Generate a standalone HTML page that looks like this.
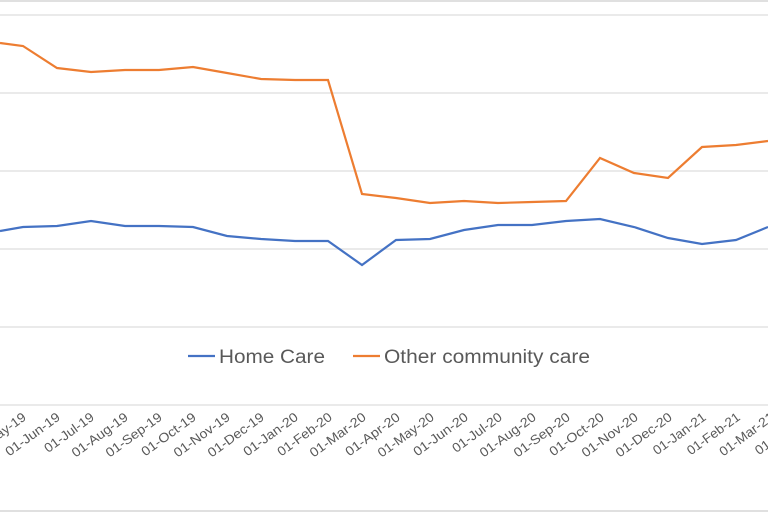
<!DOCTYPE html>
<html><head><style>body{margin:0;background:#fff}svg{display:block}</style></head><body>
<svg width="768" height="512" xmlns="http://www.w3.org/2000/svg" font-family="Liberation Sans, sans-serif">
<rect x="0" y="0" width="768" height="2" fill="#e0e0e0"/>
<rect x="0" y="510" width="768" height="2" fill="#e0e0e0"/>
<g stroke="#e3e3e3" stroke-width="1.5">
<line x1="0" y1="15" x2="768" y2="15"/><line x1="0" y1="93" x2="768" y2="93"/>
<line x1="0" y1="171" x2="768" y2="171"/><line x1="0" y1="249" x2="768" y2="249"/>
<line x1="0" y1="327" x2="768" y2="327"/><line x1="0" y1="405" x2="768" y2="405"/>
</g>
<polyline fill="none" stroke="#ED7D31" stroke-width="2.2" points="0,43 23,46 57,68 91,72 125,70 159,70 193,67 227,73 261,79 295,80 328,80 362,194 396,198 430,203 464,201 498,203 532,202 566,201 600,158 634,173 668,178 702,147 736,145 768,141"/>
<polyline fill="none" stroke="#4472C4" stroke-width="2.2" points="0,231 23,227 57,226 91,221 125,226 159,226 193,227 227,236 261,239 295,241 328,241 362,265 396,240 430,239 464,230 498,225 532,225 566,221 600,219 634,227 668,238 702,244 736,240 768,227"/>
<line x1="188" y1="356" x2="215" y2="356" stroke="#4472C4" stroke-width="2.2"/>
<text x="219" y="363" font-size="19" fill="#595959" textLength="106" lengthAdjust="spacingAndGlyphs">Home Care</text>
<line x1="353" y1="356" x2="380" y2="356" stroke="#ED7D31" stroke-width="2.2"/>
<text x="384" y="363" font-size="19" fill="#595959" textLength="206" lengthAdjust="spacingAndGlyphs">Other community care</text>
<g font-size="13" fill="#595959" text-anchor="end">
<text transform="translate(27,419) rotate(-36)" textLength="66" lengthAdjust="spacingAndGlyphs">01-May-19</text>
<text transform="translate(61,419) rotate(-36)" textLength="64" lengthAdjust="spacingAndGlyphs">01-Jun-19</text>
<text transform="translate(95,419) rotate(-36)" textLength="58" lengthAdjust="spacingAndGlyphs">01-Jul-19</text>
<text transform="translate(129,419) rotate(-36)" textLength="66" lengthAdjust="spacingAndGlyphs">01-Aug-19</text>
<text transform="translate(163,419) rotate(-36)" textLength="66" lengthAdjust="spacingAndGlyphs">01-Sep-19</text>
<text transform="translate(197,419) rotate(-36)" textLength="64" lengthAdjust="spacingAndGlyphs">01-Oct-19</text>
<text transform="translate(231,419) rotate(-36)" textLength="66" lengthAdjust="spacingAndGlyphs">01-Nov-19</text>
<text transform="translate(265,419) rotate(-36)" textLength="66" lengthAdjust="spacingAndGlyphs">01-Dec-19</text>
<text transform="translate(299,419) rotate(-36)" textLength="64" lengthAdjust="spacingAndGlyphs">01-Jan-20</text>
<text transform="translate(333,419) rotate(-36)" textLength="64" lengthAdjust="spacingAndGlyphs">01-Feb-20</text>
<text transform="translate(367,419) rotate(-36)" textLength="66" lengthAdjust="spacingAndGlyphs">01-Mar-20</text>
<text transform="translate(401,419) rotate(-36)" textLength="64" lengthAdjust="spacingAndGlyphs">01-Apr-20</text>
<text transform="translate(435,419) rotate(-36)" textLength="66" lengthAdjust="spacingAndGlyphs">01-May-20</text>
<text transform="translate(469,419) rotate(-36)" textLength="64" lengthAdjust="spacingAndGlyphs">01-Jun-20</text>
<text transform="translate(503,419) rotate(-36)" textLength="58" lengthAdjust="spacingAndGlyphs">01-Jul-20</text>
<text transform="translate(537,419) rotate(-36)" textLength="66" lengthAdjust="spacingAndGlyphs">01-Aug-20</text>
<text transform="translate(571,419) rotate(-36)" textLength="66" lengthAdjust="spacingAndGlyphs">01-Sep-20</text>
<text transform="translate(605,419) rotate(-36)" textLength="64" lengthAdjust="spacingAndGlyphs">01-Oct-20</text>
<text transform="translate(639,419) rotate(-36)" textLength="66" lengthAdjust="spacingAndGlyphs">01-Nov-20</text>
<text transform="translate(673,419) rotate(-36)" textLength="66" lengthAdjust="spacingAndGlyphs">01-Dec-20</text>
<text transform="translate(707,419) rotate(-36)" textLength="62" lengthAdjust="spacingAndGlyphs">01-Jan-21</text>
<text transform="translate(741,419) rotate(-36)" textLength="62" lengthAdjust="spacingAndGlyphs">01-Feb-21</text>
<text transform="translate(775,419) rotate(-36)" textLength="64" lengthAdjust="spacingAndGlyphs">01-Mar-21</text>
<text transform="translate(809,419) rotate(-36)" textLength="62" lengthAdjust="spacingAndGlyphs">01-Apr-21</text>
</g>
</svg>
</body></html>
